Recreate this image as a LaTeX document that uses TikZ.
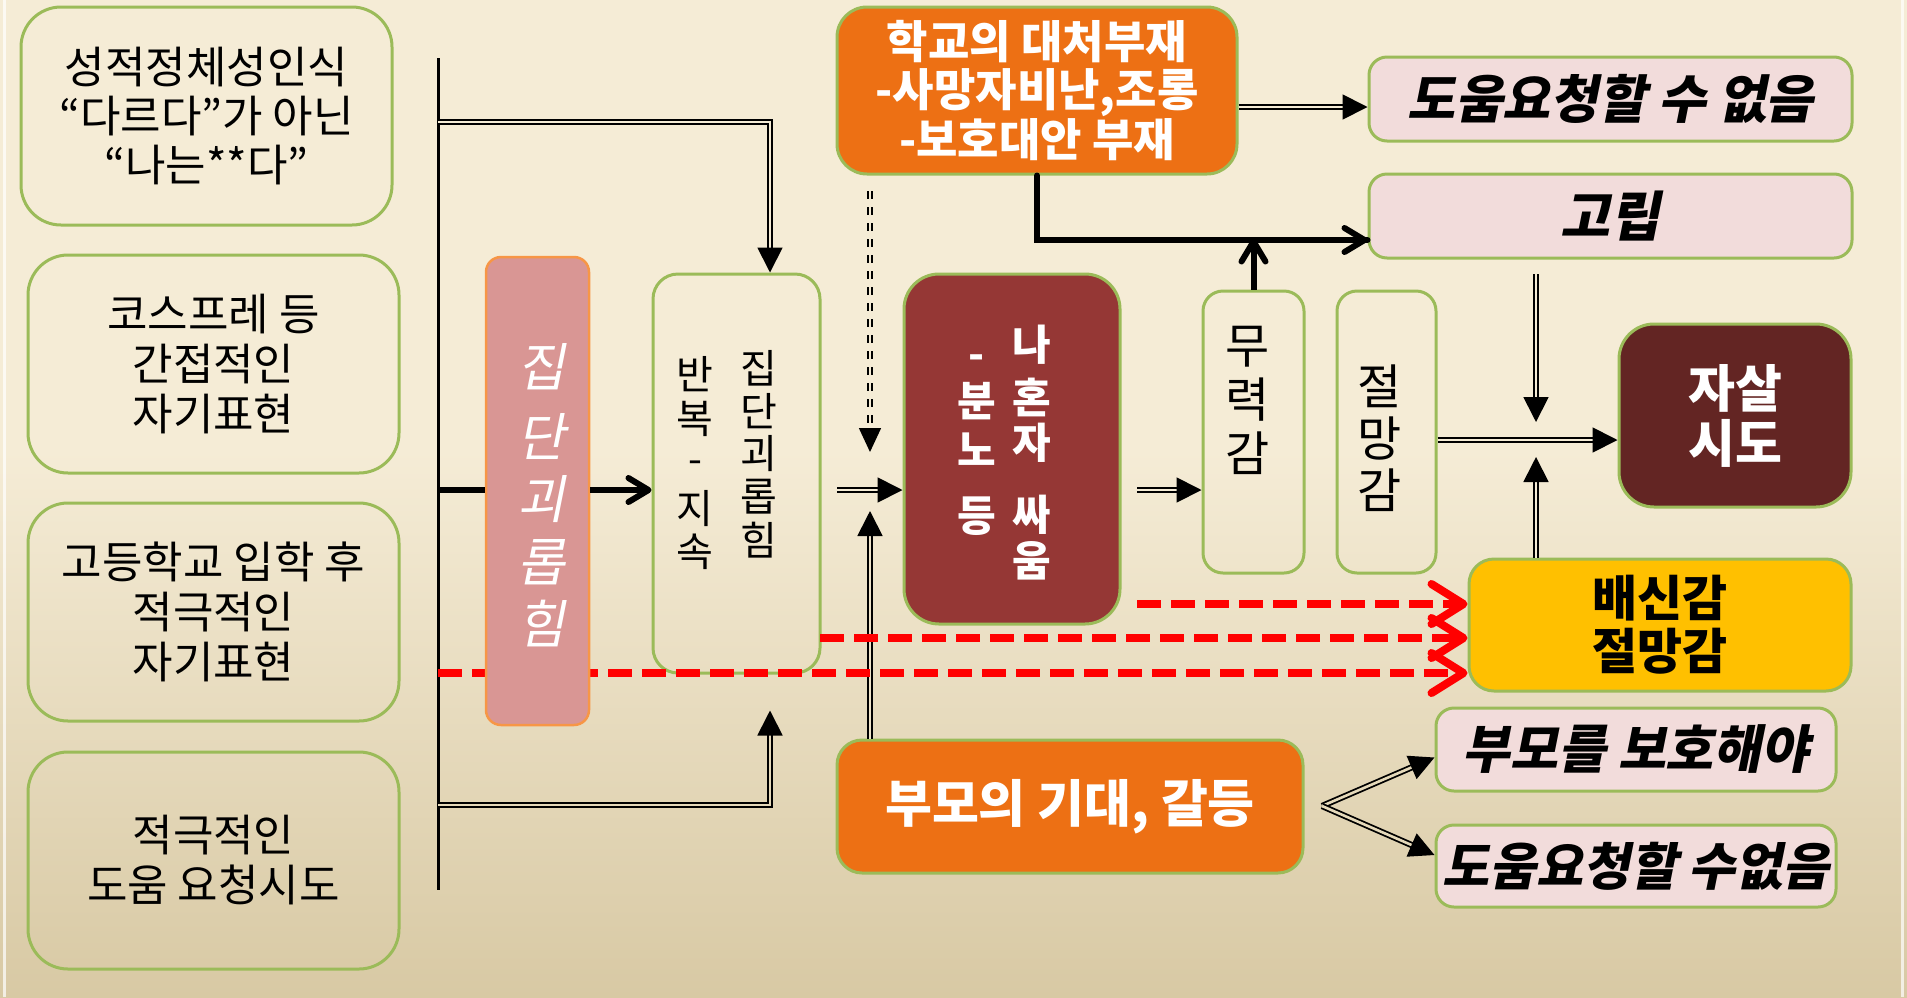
\documentclass[tikz,border=0pt]{standalone}
\usepackage{fontspec}
\setmainfont{Noto Sans CJK KR}
\newfontfamily\krsl[FakeSlant=0.2]{Noto Sans CJK KR}
\usetikzlibrary{arrows.meta}
\definecolor{topc}{HTML}{F5ECD6}
\definecolor{botc}{HTML}{D8C9A4}
\definecolor{grn}{HTML}{9BBB59}
\definecolor{pinkA}{HTML}{D99694}
\definecolor{orA}{HTML}{F79646}
\definecolor{orB}{HTML}{ED7014}
\definecolor{redC}{HTML}{953735}
\definecolor{darkR}{HTML}{632523}
\definecolor{gold}{HTML}{FFC000}
\definecolor{pinkL}{HTML}{F2DCDB}
\colorlet{dblmid}{topc!75!botc}
\colorlet{dbllow}{topc!45!botc}
\newcommand\fs[2]{\fontsize{#1pt}{#2pt}\selectfont}
\begin{document}
\begin{tikzpicture}[x=1pt,y=-1pt,
 gbox/.style={draw=grn,line width=3pt,inner sep=0pt,align=center},
 vch/.style={inner sep=0pt,anchor=center},
 dbl/.style={draw=black,line width=1.8pt,double=#1,double distance=2.6pt,-{Triangle[length=25pt,width=25pt]}},
 dbl/.default=topc,
 barb/.style={line width=6pt,-{Straight Barb[length=20pt,width=24pt,round]}},
 reddash/.style={draw=red,line width=8pt,dash pattern=on 24pt off 10pt,-{Straight Barb[length=32pt,width=40pt,round]}},
 dotdbl/.style={draw=black,line width=1.5pt,double=topc,double distance=2.2pt,dash pattern=on 8pt off 8pt,-{Triangle[length=24pt,width=22pt]}}]
% background
\fill[topc] (0,0) rectangle (1907,452);
\shade[top color=topc,bottom color=botc] (0,450) rectangle (1907,997);
\useasboundingbox (0,0) rectangle (1907,997);
\draw[white,opacity=.7,line width=3pt] (4,0) -- (4,997);
\draw[white,opacity=.7,line width=3pt] (1902,0) -- (1902,997);

% left boxes
\node[gbox,rounded corners=40pt,minimum width=371pt,minimum height=218pt,font=\fs{44}{49}] (L1) at (206.5,116) {성적정체성인식\\“다르다”가 아닌\\“나는**다”};
\node[gbox,rounded corners=40pt,minimum width=371pt,minimum height=218pt,font=\fs{44}{50}] (L2) at (213.5,364) {코스프레 등\\간접적인\\자기표현};
\node[gbox,rounded corners=40pt,minimum width=371pt,minimum height=218pt,font=\fs{44}{50}] (L3) at (213.5,612) {고등학교 입학 후\\적극적인\\자기표현};
\node[gbox,rounded corners=40pt,minimum width=371pt,minimum height=217pt,font=\fs{44}{50}] (L4) at (213.5,860.5) {적극적인\\도움 요청시도};

% bus
\coordinate (busT) at (438,58);
\coordinate (busB) at (438,890);
\draw[line width=3pt] (busT) -- (busB);

% main boxes
\node[gbox,rounded corners=25pt,minimum width=167pt,minimum height=399pt] (B) at (736.5,473.5) {};
\node[gbox,rounded corners=35pt,fill=redC,minimum width=216pt,minimum height=350pt] (C) at (1012,449) {};
\node[gbox,rounded corners=20pt,minimum width=101pt,minimum height=282pt] (D) at (1253.5,432) {};
\node[gbox,rounded corners=20pt,minimum width=99pt,minimum height=282pt] (E) at (1386.5,432) {};
\node[gbox,rounded corners=30pt,fill=orB,minimum width=400pt,minimum height=167pt,text=white,font=\bfseries\fs{45}{48}] (H) at (1037,90.5) {학교의 대처부재\\-사망자비난,조롱\\-보호대안 부재};
\node[gbox,rounded corners=18pt,fill=pinkL,minimum width=483pt,minimum height=84pt,font=\krsl\bfseries\fs{52}{54}] (D1) at (1610.5,99) {도움요청할 수 없음};
\node[gbox,rounded corners=18pt,fill=pinkL,minimum width=483pt,minimum height=84pt,font=\krsl\bfseries\fs{54}{54}] (G) at (1610.5,216) {고립};
\node[gbox,rounded corners=35pt,fill=darkR,minimum width=232pt,minimum height=183pt,text=white,font=\bfseries\fs{51}{55}] (S) at (1735,415.5) {자살\\시도};
\node[gbox,rounded corners=25pt,fill=gold,minimum width=382pt,minimum height=132pt,font=\bfseries\fs{49}{53}] (Bt) at (1660,625) {배신감\\절망감};
\node[gbox,rounded corners=25pt,fill=orB,minimum width=466pt,minimum height=133pt,text=white,font=\bfseries\fs{51}{54}] (P) at (1070,806.5) {부모의 기대, 갈등};
\node[gbox,rounded corners=18pt,fill=pinkL,minimum width=400pt,minimum height=83pt,font=\krsl\bfseries\fs{52}{54}] (P1) at (1636,749.5) {부모를 보호해야};
\node[gbox,rounded corners=18pt,fill=pinkL,minimum width=400pt,minimum height=82pt,font=\krsl\bfseries\fs{51}{54}] (P2) at (1636,866) {도움요청할 수없음};

% vertical texts
\foreach \t/\yy [count=\i] in {집/368,단/411,괴/454,롭/497,힘/540}
  \node[vch,font=\fs{40}{40}] (bR\i) at (759,\yy) {\t};
\foreach \t/\yy [count=\i] in {반/374,복/419,-/467,지/509,속/552}
  \node[vch,font=\fs{40}{40}] (bL\i) at (695,\yy) {\t};
\foreach \t/\yy [count=\i] in {나/345,혼/397,자/443,싸/515,움/561}
  \node[vch,text=white,font=\bfseries\fs{42}{42}] (cR\i) at (1032,\yy) {\t};
\foreach \t/\yy [count=\i] in {-/362,분/401,노/449,등/516}
  \node[vch,text=white,font=\bfseries\fs{42}{42}] (cL\i) at (977,\yy) {\t};
\foreach \t/\yy [count=\i] in {무/347,력/400,감/453}
  \node[vch,font=\fs{48}{48}] (dC\i) at (1248,\yy) {\t};
\foreach \t/\yy [count=\i] in {절/386,망/438,감/490}
  \node[vch,font=\fs{48}{48}] (eC\i) at (1380,\yy) {\t};

% double arrows
\coordinate (t1) at (438,122);
\draw[dbl] (t1) -| ([xshift=33.5pt]B.north);
\coordinate (t2) at (438,805);
\draw[dbl=dbllow] (t2) -| ([xshift=33.5pt,yshift=-36pt]B.south);
\coordinate (bc) at (837,490);
\draw[dbl] (bc) -- (bc -| C.west);
\coordinate (cd) at (1137,490);
\draw[dbl] (cd) -- (cd -| D.west);
\coordinate (e1) at ([yshift=-8pt]E.east);
\draw[dbl] (e1) -- (e1 -| S.west);
\coordinate (g1) at (1536,274);
\coordinate (g2) at (1536,422);
\draw[dbl] (g1) -- (g2);
\coordinate (g3) at (1536,457);
\draw[dbl] ([xshift=-124pt]Bt.north) -- (g3);
\draw[dbl] ([yshift=-16.5pt]H.east) -- ([yshift=-8pt]D1.west);
\coordinate (pu) at (870,511);
\draw[dbl=dblmid] ([xshift=-200pt]P.north) -- (pu);
\coordinate (fk) at (1322,806);
\draw[dbl=dbllow] (fk) -- ([yshift=-8pt]P1.west);
\draw[dbl=dbllow] (fk) -- ([yshift=11pt]P2.west);
\coordinate (dt) at (870,191);
\coordinate (db) at (870,452);
\draw[dotdbl] (dt) -- (db);

% thick solid
\draw[line width=6pt,line cap=round] (H.south) |- ([yshift=-24pt]G.west) coordinate (gw);
\draw[line width=6pt,-{Straight Barb[length=20pt,width=24pt,round]}] (H.south) |- (gw);
\draw[barb] (D.north) -- ++(0,-51);

% red dashed
\coordinate (r1s) at (1137,604);
\draw[reddash] (r1s) -- ([yshift=21pt]Bt.west);
\coordinate (r2s) at (820,638);
\draw[reddash] (r2s) -- ([yshift=-13pt]Bt.west);
\coordinate (r3s) at (438,673);
\draw[reddash] (r3s) -- ([yshift=-48pt]Bt.west);

% box A on top
\node[draw=orA,line width=2.5pt,fill=pinkA,rounded corners=15pt,inner sep=0pt,minimum width=103pt,minimum height=468pt] (A) at (537.5,491) {};
\foreach \t/\yy [count=\i] in {집/367,단/436,괴/499,롭/562,힘/624}
  \node[vch,text=white,font=\krsl\fs{52}{52}] (a\i) at (541,\yy) {\t};
\coordinate (m0) at (438,490);
\draw[line width=6pt] (m0) -- (m0 -| A.west);
\draw[barb] (A.east |- m0) -- (m0 -| B.west);
\end{tikzpicture}
\end{document}
